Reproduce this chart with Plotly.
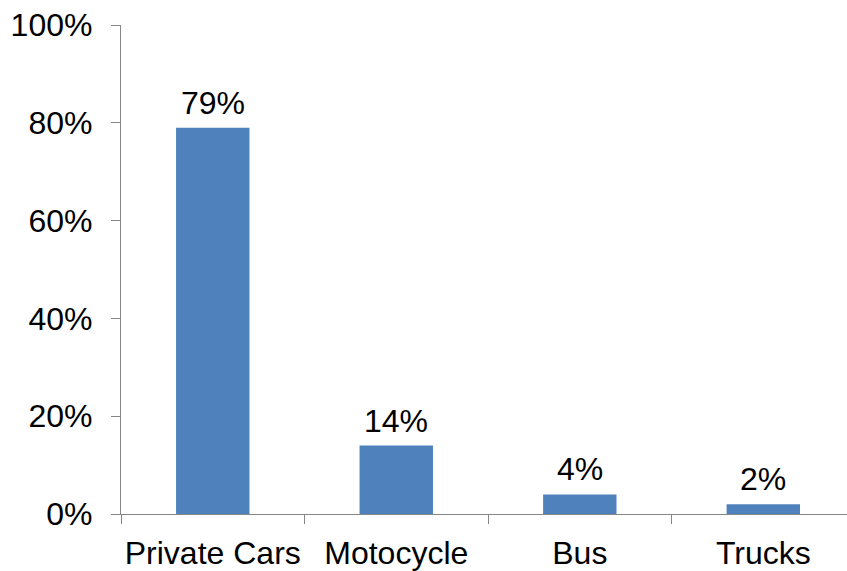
import plotly.graph_objects as go

# Vehicle share by type
categories = ["Private Cars", "Motocycle", "Bus", "Trucks"]
shares = [0.79, 0.14, 0.04, 0.02]
value_labels = ["79%", "14%", "4%", "2%"]

BAR_COLOR = "#4F81BD"
AXIS_COLOR = "#868686"
FONT = "Liberation Sans, Arial, sans-serif"

fig = go.Figure(
    go.Bar(
        x=categories,
        y=shares,
        width=0.4,
        marker=dict(color=BAR_COLOR, line=dict(width=0)),
        hoverinfo="x+y",
    )
)

# Value labels sit a little above each bar top
for cat, val, lab in zip(categories, shares, value_labels):
    fig.add_annotation(
        x=cat,
        y=val,
        text=lab,
        showarrow=False,
        xanchor="center",
        yanchor="bottom",
        yshift=5,
        font=dict(family=FONT, size=32, color="black"),
    )

fig.update_layout(
    width=847,
    height=571,
    margin=dict(l=121, r=0, t=25, b=57, autoexpand=False),
    paper_bgcolor="white",
    plot_bgcolor="white",
    showlegend=False,
    font=dict(family=FONT, size=32, color="black"),
)

fig.update_xaxes(
    type="category",
    range=[-0.5, 3.456],
    showline=True,
    linecolor=AXIS_COLOR,
    linewidth=1.3,
    ticks="outside",
    tickson="boundaries",
    ticklen=9,
    tickcolor=AXIS_COLOR,
    tickwidth=1.3,
    showgrid=False,
    tickangle=0,
    automargin=False,
    ticklabelstandoff=10,
    tickfont=dict(family=FONT, size=32, color="black"),
)

fig.update_yaxes(
    range=[0, 1],
    dtick=0.2,
    tickformat=".0%",
    showline=True,
    linecolor=AXIS_COLOR,
    linewidth=1.3,
    ticks="outside",
    ticklen=9,
    tickcolor=AXIS_COLOR,
    tickwidth=1.3,
    showgrid=False,
    zeroline=False,
    automargin=False,
    ticklabelstandoff=12,
    tickfont=dict(family=FONT, size=32, color="black"),
)

fig.write_html("out.html")
